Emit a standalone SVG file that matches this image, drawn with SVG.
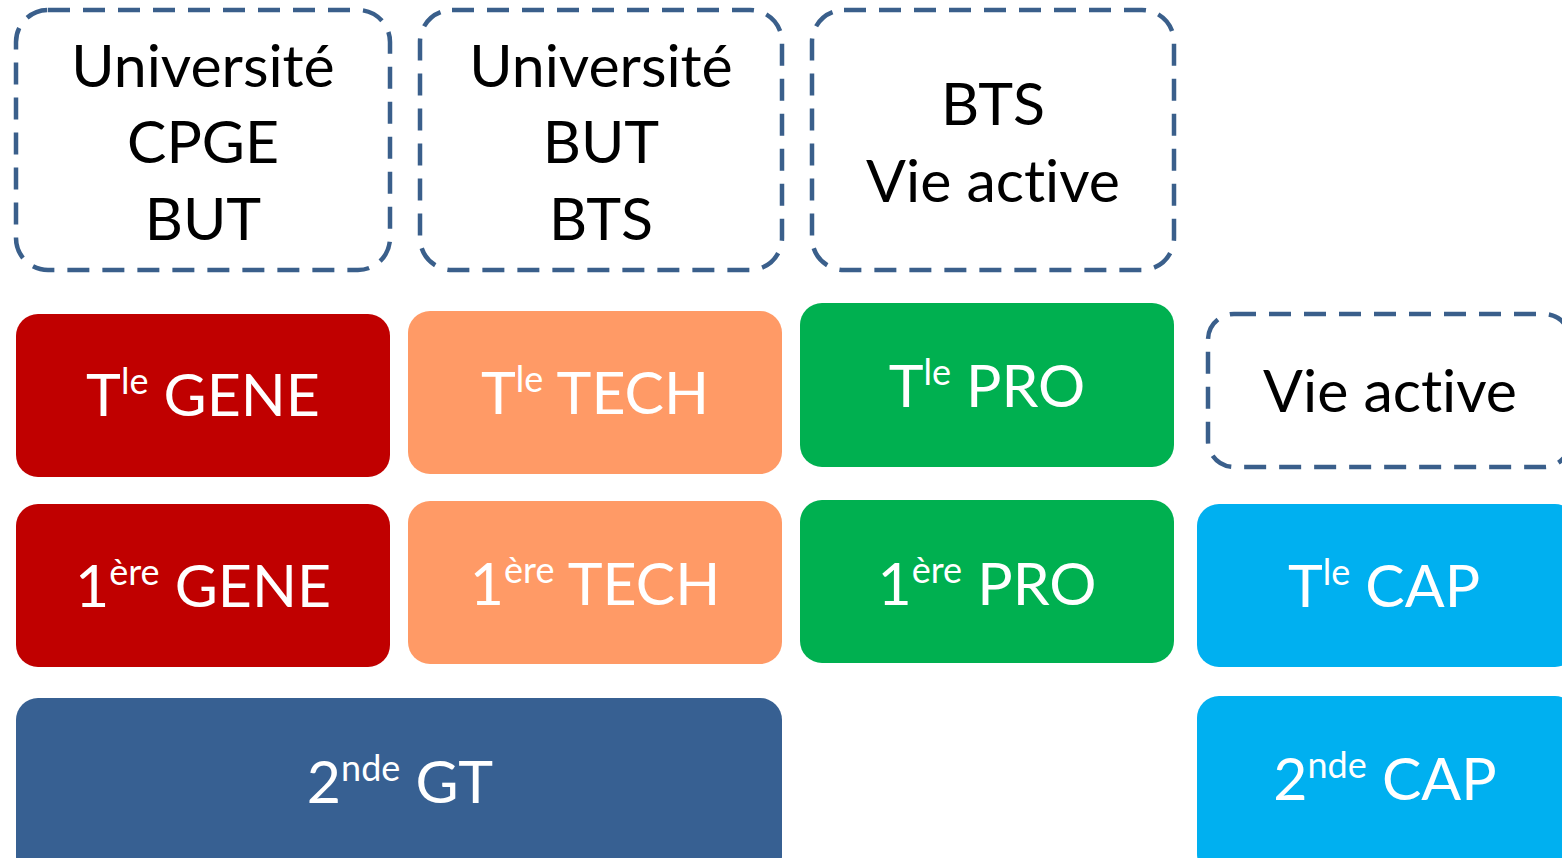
<svg xmlns="http://www.w3.org/2000/svg" width="1562" height="858" viewBox="0 0 1562 858">
<style>
.dash{fill:#fff;stroke:#3A5F8B;stroke-width:4.5;stroke-dasharray:22 13}
.t{font-family:Lato,"Open Sans",sans-serif;font-size:59px;text-anchor:middle;font-variant-ligatures:none;font-feature-settings:"liga" 0}
.b{fill:#000}
.w{fill:#fff}
.red{fill:#C00000}.org{fill:#FF9A66}.grn{fill:#00B050}.cyan{fill:#00B0F0}.navy{fill:#376092}
</style>
<rect width="1562" height="858" fill="#fff"/>
<g id="n-univ1">
<rect class="dash" x="16" y="10" width="374" height="260" rx="32"/>
<text class="t b" x="203" y="87">Université</text>
<text class="t b" x="203" y="163">CPGE</text>
<text class="t b" x="203" y="240">BUT</text>
</g>
<g id="n-univ2">
<rect class="dash" x="420" y="10" width="362" height="260" rx="32"/>
<text class="t b" x="601" y="87">Université</text>
<text class="t b" x="601" y="163">BUT</text>
<text class="t b" x="601" y="240">BTS</text>
</g>
<g id="n-bts">
<rect class="dash" x="812" y="10" width="362" height="260" rx="32"/>
<text class="t b" x="993" y="125">BTS</text>
<text class="t b" x="993" y="202">Vie active</text>
</g>
<g id="n-vie">
<rect class="dash" x="1208" y="314" width="362" height="153" rx="26"/>
<text class="t b" x="1390" y="412">Vie active</text>
</g>
<g id="n-tgene">
<rect class="red" x="16" y="314" width="374" height="163" rx="22"/>
<text class="t w" x="203" y="416">T<tspan font-size="36" dy="-22">le</tspan><tspan dy="22"> GENE</tspan></text>
</g>
<g id="n-ttech">
<rect class="org" x="408" y="311" width="374" height="163" rx="22"/>
<text class="t w" x="595" y="414">T<tspan font-size="36" dy="-22">le</tspan><tspan dy="22"> TECH</tspan></text>
</g>
<g id="n-tpro">
<rect class="grn" x="800" y="303" width="374" height="164" rx="22"/>
<text class="t w" x="987" y="407">T<tspan font-size="36" dy="-22">le</tspan><tspan dy="22"> PRO</tspan></text>
</g>
<g id="n-1gene">
<rect class="red" x="16" y="504" width="374" height="163" rx="22"/>
<text class="t w" x="203" y="607">1<tspan font-size="36" dy="-22">ère</tspan><tspan dy="22"> GENE</tspan></text>
</g>
<g id="n-1tech">
<rect class="org" x="408" y="501" width="374" height="163" rx="22"/>
<text class="t w" x="595" y="605">1<tspan font-size="36" dy="-22">ère</tspan><tspan dy="22"> TECH</tspan></text>
</g>
<g id="n-1pro">
<rect class="grn" x="800" y="500" width="374" height="163" rx="22"/>
<text class="t w" x="987" y="605">1<tspan font-size="36" dy="-22">ère</tspan><tspan dy="22"> PRO</tspan></text>
</g>
<g id="n-tcap">
<rect class="cyan" x="1197" y="504" width="380" height="163" rx="22"/>
<text class="t w" x="1384" y="607">T<tspan font-size="36" dy="-22">le</tspan><tspan dy="22"> CAP</tspan></text>
</g>
<g id="n-2gt">
<rect class="navy" x="16" y="698" width="766" height="180" rx="22"/>
<text class="t w" x="400" y="803">2<tspan font-size="36" dy="-22">nde</tspan><tspan dy="22"> GT</tspan></text>
</g>
<g id="n-2cap">
<rect class="cyan" x="1197" y="696" width="380" height="180" rx="22"/>
<text class="t w" x="1385" y="800">2<tspan font-size="36" dy="-22">nde</tspan><tspan dy="22"> CAP</tspan></text>
</g>
<g id="connectors"></g>
</svg>
